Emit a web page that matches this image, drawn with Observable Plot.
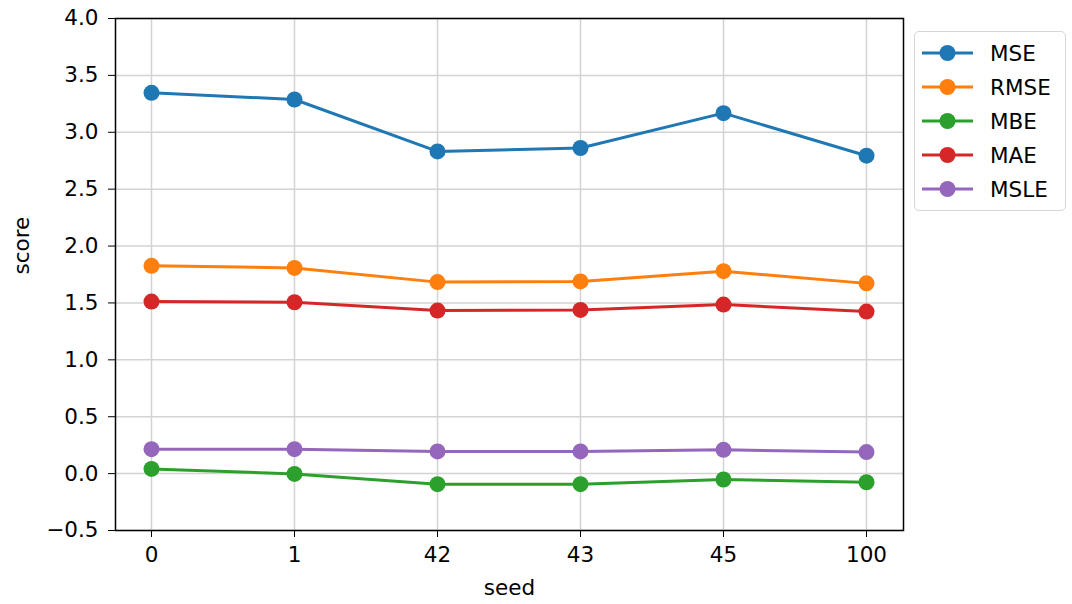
<!DOCTYPE html>
<html>
<head>
<meta charset="utf-8">
<script src="https://cdn.jsdelivr.net/npm/d3@7"></script>
<script src="https://cdn.jsdelivr.net/npm/@observablehq/plot@0.6"></script>
<style>
  body { margin: 0; background: #fff; }
  #wrap { position: relative; width: 1072px; height: 604px; font-family: "DejaVu Sans", sans-serif; }
  #legend { position: absolute; left: 914px; top: 31px; width: 152px; height: 180px; box-sizing: border-box;
    border: 1.5px solid #d6d6d6; border-radius: 5px; background: #fff; }
  .row { position: absolute; left: 0; height: 34px; display: flex; align-items: center; }
  .row span { font-size: 21.5px; color: #000; margin-left: 7px; }
</style>
</head>
<body>
<div id="wrap"><div id="chart"></div><div id="legend"></div></div>
<script>
const seeds = ["0", "1", "42", "43", "45", "100"];
const metrics = ["MSE", "RMSE", "MBE", "MAE", "MSLE"];
const colors = ["#1f77b4", "#ff7f0e", "#2ca02c", "#d62728", "#9467bd"];
const mse  = [3.347, 3.288, 2.832, 2.862, 3.168, 2.794];
const rmse = [1.826, 1.808, 1.683, 1.689, 1.779, 1.672];
const mbe  = [0.041, -0.003, -0.093, -0.093, -0.052, -0.076];
const mae  = [1.512, 1.506, 1.433, 1.439, 1.486, 1.424];
const msle = [0.215, 0.215, 0.195, 0.195, 0.209, 0.189];
const yTicks = [-0.5, 0, 0.5, 1, 1.5, 2, 2.5, 3, 3.5, 4];

const series = [mse, rmse, mbe, mae, msle];
const data = [];
metrics.forEach((m, i) => seeds.forEach((s, j) => data.push({metric: m, seed: s, value: series[i][j]})));

const chart = Plot.plot({
  width: 1072,
  height: 604,
  marginLeft: 115,
  marginRight: 169,
  marginTop: 18,
  marginBottom: 74,
  style: {fontFamily: "DejaVu Sans, sans-serif", fontSize: "21.5px", color: "#000", background: "#fff"},
  x: {type: "point", domain: seeds, padding: 0, insetLeft: 36, insetRight: 37},
  y: {domain: [-0.5, 4]},
  color: {domain: metrics, range: colors},
  marks: [
    Plot.gridX(seeds, {stroke: "#d3d3d3", strokeOpacity: 1, strokeWidth: 1.5}),
    Plot.gridY(yTicks, {stroke: "#d3d3d3", strokeOpacity: 1, strokeWidth: 1.5}),
    Plot.axisX(seeds, {tickSize: 7, tickPadding: 9, label: null, fontSize: 21.5}),
    Plot.axisY(yTicks, {tickSize: 7, tickPadding: 10, tickFormat: d3.format(".1f"), label: null, fontSize: 21.5}),
    Plot.line(data, {x: "seed", y: "value", z: "metric", stroke: "metric", strokeWidth: 3}),
    Plot.dot(data, {x: "seed", y: "value", fill: "metric", r: 8}),
    Plot.frame({stroke: "#000", strokeWidth: 1.5}),
    Plot.text(["score"], {frameAnchor: "left", dx: -93, rotate: -90, fontSize: 21.5}),
    Plot.text(["seed"], {frameAnchor: "bottom", dy: 64, fontSize: 21.5})
  ]
});
document.getElementById("chart").appendChild(chart);

const legend = document.getElementById("legend");
metrics.forEach((m, i) => {
  const row = document.createElement("div");
  row.className = "row";
  row.style.top = (4 + i * 34) + "px";
  row.innerHTML = `<svg width="62" height="20" style="margin-left:6px"><line x1="1" y1="10" x2="52" y2="10" stroke="${colors[i]}" stroke-width="3"/><circle cx="26.5" cy="10" r="8" fill="${colors[i]}"/></svg><span>${m}</span>`;
  legend.appendChild(row);
});
</script>
</body>
</html>
